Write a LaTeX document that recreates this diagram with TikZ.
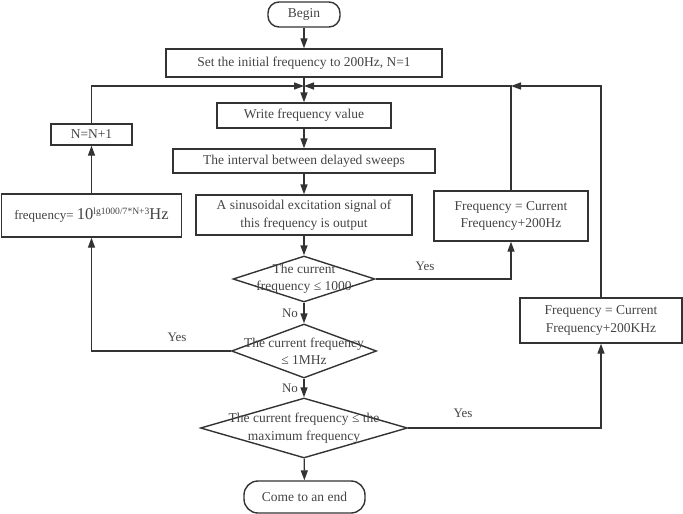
\documentclass[tikz,border=0pt]{standalone}
\usepackage{fontspec}
\setmainfont{Liberation Serif}
\usetikzlibrary{arrows.meta,shapes.geometric}
\definecolor{lc}{HTML}{333333}
\definecolor{tx}{HTML}{444444}
\begin{document}
\begin{tikzpicture}[x=1pt,y=-1pt,
  every node/.style={text=tx, font=\fontsize{13.5}{17.5}\selectfont},
  box/.style={draw=lc, line width=1.4pt, rectangle, inner sep=0pt, align=center},
  term/.style={box, rounded corners=11pt},
  dia/.style={draw=lc, line width=1.4pt, diamond, inner sep=0pt},
  dtext/.style={inner sep=0pt, align=center},
  lab/.style={inner sep=0pt, font=\fontsize{13}{15}\selectfont},
  arr/.style={draw=lc, line width=1.4pt, -{Triangle[length=10pt,width=7pt]}}
]
\useasboundingbox (0,0) rectangle (683,514);

\node[term, minimum width=72pt, minimum height=25pt] (begin) at (304,14.5) {Begin};
\node[box, minimum width=276pt, minimum height=28pt] (set) at (304,63) {Set the initial frequency to 200Hz, N=1};
\coordinate (J) at (304,86);
\node[box, minimum width=174pt, minimum height=25pt] (write) at (304,115.5) {Write frequency value};
\node[box, minimum width=262pt, minimum height=24pt] (intv) at (304,161) {The interval between delayed sweeps};
\node[box, minimum width=216pt, minimum height=40pt] (sinus) at (304,215) {A sinusoidal excitation signal of\\this frequency is output};

\node[dia, minimum width=142pt, minimum height=46pt] (d1) at (304,279) {};
\node[dtext] (d1t) at (d1) {The current\\frequency ≤ 1000};
\node[dia, minimum width=145pt, minimum height=54pt] (d2) at (304,351) {};
\node[dtext] (d2t) at (d2) {The current frequency\\≤ 1MHz};
\node[dia, minimum width=207pt, minimum height=60pt] (d3) at (304,428) {};
\node[dtext] (d3t) at (d3) {The current frequency ≤ the\\maximum frequency};

\node[term, rounded corners=14pt, minimum width=121pt, minimum height=32pt] (end) at (304.5,497) {Come to an end};

\node[box, minimum width=154pt, minimum height=50pt] (f200) at (511,216) {Frequency = Current\\Frequency+200Hz};
\node[box, minimum width=162pt, minimum height=45pt] (f200k) at (601,320.5) {Frequency = Current\\Frequency+200KHz};

\node[box, minimum width=180pt, minimum height=43pt] (formula) at (91.5,215.5)
  {\fontsize{13}{15}\selectfont frequency= {\fontsize{16.5}{17}\selectfont 10}\raisebox{5pt}{\fontsize{9.6}{10}\selectfont lg1000/7*N+3}{\fontsize{16.5}{17}\selectfont Hz}};
\node[box, minimum width=81pt, minimum height=21pt] (N) at (91.5,134.5) {N=N+1};

\node[lab] (y1) at (425,266) {Yes};
\node[lab] (n1) at (290,313) {No};
\node[lab] (n2) at (290,388) {No};
\node[lab] (y2) at (177,337) {Yes};
\node[lab] (y3) at (463,413) {Yes};

\draw[arr] (begin) -- (set);
\draw[arr] (set) -- (write);
\draw[arr] (write) -- (intv);
\draw[arr] (intv) -- (sinus);
\draw[arr] (sinus) -- (d1);
\draw[arr] (d1) -- (d2);
\draw[arr] (d2) -- (d3);
\draw[arr] (d3) -- (end);
\draw[arr] (d1.east) -| (f200.south);
\draw[arr] (f200.north) |- (J);
\draw[arr] (f200k.north) |- (f200.north |- J);
\draw[arr] (d3.east) -| (f200k.south);
\draw[arr] (d2.west) -| (formula.south);
\draw[arr] (formula) -- (N);
\draw[arr] (N.north) |- (J);
\end{tikzpicture}
\end{document}
